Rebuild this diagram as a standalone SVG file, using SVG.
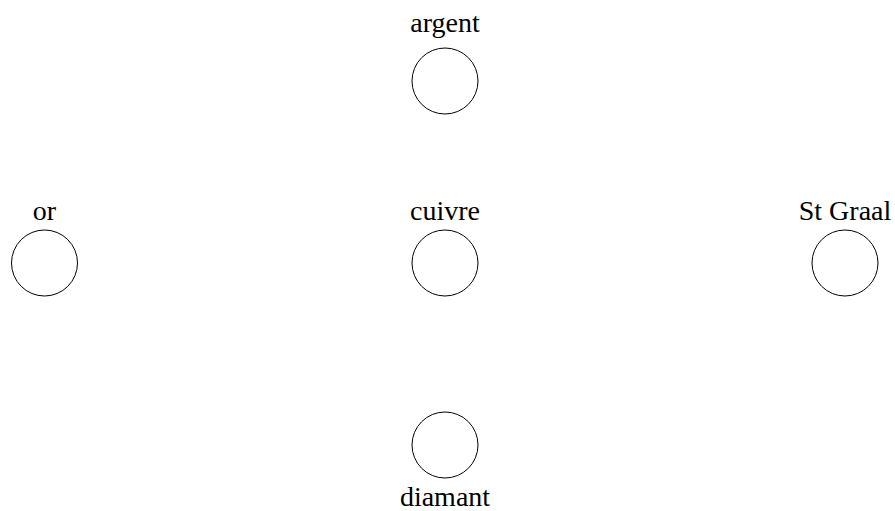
<svg xmlns="http://www.w3.org/2000/svg" width="895" height="511" viewBox="0 0 895 511">
<style>
.n{fill:none;stroke:#000;stroke-width:1}
.t{font-family:"Liberation Serif","Times New Roman",serif;font-size:28px;fill:#000;text-anchor:middle}
</style>
<rect width="895" height="511" fill="#fff"/>
<g id="connectors"></g>
<g id="argent"><circle class="n" cx="445" cy="81" r="33"/><text class="t" x="445" y="32">argent</text></g>
<g id="or"><circle class="n" cx="44.5" cy="263" r="33"/><text class="t" x="44.5" y="220">or</text></g>
<g id="cuivre"><circle class="n" cx="445" cy="263" r="33"/><text class="t" x="445" y="220">cuivre</text></g>
<g id="stgraal"><circle class="n" cx="845" cy="263" r="33"/><text class="t" x="845" y="220">St Graal</text></g>
<g id="diamant"><circle class="n" cx="445" cy="445" r="33"/><text class="t" x="445" y="506">diamant</text></g>
</svg>
